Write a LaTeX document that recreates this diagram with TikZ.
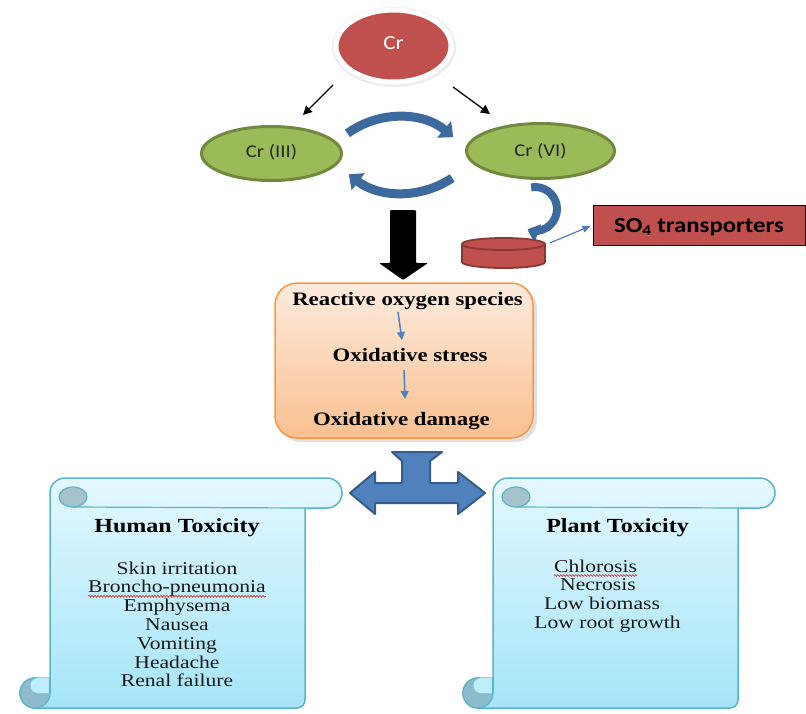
\documentclass[tikz,border=0pt]{standalone}
\usepackage{fontspec}
\setmainfont{Liberation Serif}[FakeStretch=1.2]
\newfontfamily\calib{Carlito}[FakeStretch=1.15]
\usetikzlibrary{arrows.meta,shapes.geometric,decorations.pathmorphing,calc}

\definecolor{crred}{HTML}{C0504D}
\definecolor{crdark}{HTML}{8C3836}
\definecolor{grn}{HTML}{9BBB59}
\definecolor{grndark}{HTML}{71893F}
\definecolor{arcblue}{HTML}{3D6A9E}
\definecolor{tblue}{HTML}{4F81BD}
\definecolor{tbluedark}{HTML}{385D8A}
\definecolor{orgline}{HTML}{F79646}
\definecolor{orgtop}{HTML}{FDEBDD}
\definecolor{orgbot}{HTML}{FAC090}
\definecolor{sctop}{HTML}{E4F8FE}
\definecolor{scbot}{HTML}{A5E5F9}
\definecolor{scline}{HTML}{5BB3CC}
\definecolor{curltop}{HTML}{A6C2CB}
\definecolor{curlbot}{HTML}{8CBCCB}

\tikzset{
  crshape/.style={ellipse, fill=crred, draw=white, line width=5pt, inner sep=0pt,
    minimum width=115pt, minimum height=72pt, text=white,
    font=\calib\fontsize{20}{21}\selectfont, text height=10pt, text depth=3pt},
  greenell/.style={ellipse, fill=grn, draw=grndark, line width=3pt, inner sep=0pt,
    font=\calib\fontsize{18}{20}\selectfont, text=black!85},
  blkarrow/.style={line width=1.3pt, -{Triangle[length=9pt,width=9pt]}},
  bluearc/.style={arcblue, line width=9pt, -{Triangle[length=12pt,width=21pt]}},
  smallarr/.style={tblue, line width=1.5pt, -{Triangle[length=8pt,width=8pt]}},
  boldtxt/.style={font=\bfseries\fontsize{19}{20}\selectfont, inner sep=0pt, anchor=base},
  listtxt/.style={font=\fontsize{18}{19}\selectfont, inner sep=0pt, anchor=base, text=black!90},
  headtxt/.style={font=\bfseries\fontsize{20}{22}\selectfont, inner sep=0pt, anchor=base},
  wavy/.style={red!85!black, line width=0.5pt, decorate,
    decoration={snake, amplitude=0.9pt, segment length=3pt}},
}

% L, Rb (body right), R (roll right), T, B
\newcommand\myscroll[5]{%
  \path[draw=scline, line width=1.5pt, top color=sctop, bottom color=scbot]
    (#1,{#4+15}) arc[start angle=180,end angle=270,radius=15]
    -- ({#3-15},#4) arc[start angle=-90,end angle=90,radius=15]
    -- (#2,{#4+30}) -- (#2,{#5-8}) arc[start angle=0,end angle=90,radius=8]
    -- ({#1-15},#5) arc[start angle=90,end angle=270,radius=15]
    -- (#1,{#5-30}) -- cycle;
  \draw[scline, line width=1.2pt, fill=curltop] ({#1+23},{#4+19}) ellipse[x radius=14, y radius=10];
  \draw[scline, line width=1.2pt] ({#1+23},{#4+29}) -- (#2,{#4+30});
  \draw[scline, line width=1.2pt, fill=curlbot] ({#1-15},{#5-15}) circle[radius=15];
  \fill[scbot!60!sctop] ({#1-12},{#5-30}) -- (#1,{#5-30}) -- (#1,{#5-15}) -- ({#1-12},{#5-15})
    arc[start angle=90,end angle=270,radius=7.5] -- cycle;
  \draw[scline, line width=1.2pt] (#1,{#5-30}) -- (#1,{#5-15});
}

\begin{document}
\begin{tikzpicture}[x=1pt,y=-1pt]
\useasboundingbox (0,0) rectangle (806,713);
\fill[white] (0,0) rectangle (806,713);

% Cr
\fill[black!7] (394,47) ellipse[x radius=62, y radius=40];
\node[crshape] (cr) at (393.5,46) {Cr};

% Cr(III), Cr(VI)
\node[greenell, minimum width=140pt, minimum height=54pt, text height=10pt, text depth=3pt] (c3) at (271.5,153.5) {Cr (III)};
\node[greenell, minimum width=148pt, minimum height=55pt, text height=12pt, text depth=2pt] (c6) at (540.5,151) {Cr (VI)};

% black thin arrows
\coordinate (a1s) at (333,85); \coordinate (a1e) at (303,115);
\coordinate (a2s) at (453,87); \coordinate (a2e) at (490,114);
\draw[blkarrow] (a1s) -- (a1e);
\draw[blkarrow] (a2s) -- (a2e);

% blue circular arrows
\draw[bluearc] ([shift={(-126:86)}]398,203) arc[start angle=-126, end angle=-50, radius=86];
\draw[bluearc] ([shift={(56:88)}]403,105) arc[start angle=56, end angle=128, radius=88];
\draw[arcblue, line width=8pt, -{Triangle[length=11pt,width=19pt]}] ([shift={(-100:22)}]535,209) arc[start angle=-100, end angle=110, radius=22];

% big black arrow
\fill[black, rounded corners=1pt] (390,210) -- (416,210) -- (416,263) -- (428,263) -- (403,280) -- (379,263) -- (390,263) -- cycle;

% cylinder
\node[minimum width=83pt, minimum height=30pt, inner sep=0pt] (cyl) at (503.5,253) {};
\path[fill=crred, draw=crdark, line width=1.8pt] (462,244) -- (462,262)
  arc[start angle=180,end angle=0,x radius=41.5,y radius=6] -- (545,244)
  arc[start angle=0,end angle=-180,x radius=41.5,y radius=6] -- cycle;
\draw[crdark, line width=1.8pt] (462,244) arc[start angle=180,end angle=0,x radius=41.5,y radius=6];

% SO4 box
\node[draw=black, line width=1pt, fill=crred, minimum width=212pt, minimum height=40pt, inner sep=0pt,
  font=\calib\bfseries\fontsize{21.5}{23}\selectfont, text height=17pt, text depth=2pt] (so4) at (699,225) {SO\textsubscript{4} transporters};
\draw[tblue, line width=1.2pt, -{Triangle[length=8pt,width=7pt]}] ($(cyl.north east)+(5,5)$) -- ($(so4.west)+(-2,1)$);

% orange box
\fill[black!12] (408,364.5) ++(-129,-77.5) [rounded corners=22pt] rectangle ++(258,155);
\node[rounded corners=22pt, draw=orgline, line width=1.5pt, top color=orgtop, bottom color=orgbot,
  minimum width=258pt, minimum height=155pt, inner sep=0pt] (ros) at (404,360.5) {};
\node[boldtxt] (t1) at (407.5,305) {Reactive oxygen species};
\node[boldtxt] (t2) at (410,361) {Oxidative stress};
\node[boldtxt] (t3) at (401.5,425) {Oxidative damage};
\coordinate (s1a) at (398,312); \coordinate (s1b) at (402,340);
\coordinate (s2a) at (404,370); \coordinate (s2b) at (405,399);
\draw[smallarr] (s1a) -- (s1b);
\draw[smallarr] (s2a) -- (s2b);

% scrolls
\myscroll{50}{305}{342}{478}{708}
\myscroll{493}{738}{775}{478}{708}

% T arrow
\filldraw[fill=tblue, draw=tbluedark, line width=2pt, line join=round]
  (392,452) -- (442,452) -- (430,461) -- (430,483) -- (458,483) -- (458,472) -- (485,493)
  -- (458,514) -- (458,503) -- (375,503) -- (375,514) -- (350,493) -- (375,472) -- (375,483)
  -- (402,483) -- (402,461) -- cycle;

% Human toxicity
\node[headtxt] (ht) at (177,532) {Human Toxicity};
\foreach \t [count=\i from 0] in {Skin irritation, Broncho-pneumonia, Emphysema, Nausea, Vomiting, Headache, Renal failure}
  \node[listtxt] (hl\i) at (177,{574+18.8*\i}) {\t};
\draw[wavy] ($(hl1.base west)+(0,3.5)$) -- ($(hl1.base east)+(0,3.5)$);

% Plant toxicity
\node[headtxt] (pt) at (617.5,532) {Plant Toxicity};
\node[listtxt] (p1) at (595.5,572) {Chlorosis};
\node[listtxt] (p2) at (598,590.5) {Necrosis};
\node[listtxt] (p3) at (602,609) {Low biomass};
\node[listtxt] (p4) at (607.5,628) {Low root growth};
\draw[wavy] ($(p1.base west)+(0,3.5)$) -- ($(p1.base east)+(0,3.5)$);
\end{tikzpicture}
\end{document}
